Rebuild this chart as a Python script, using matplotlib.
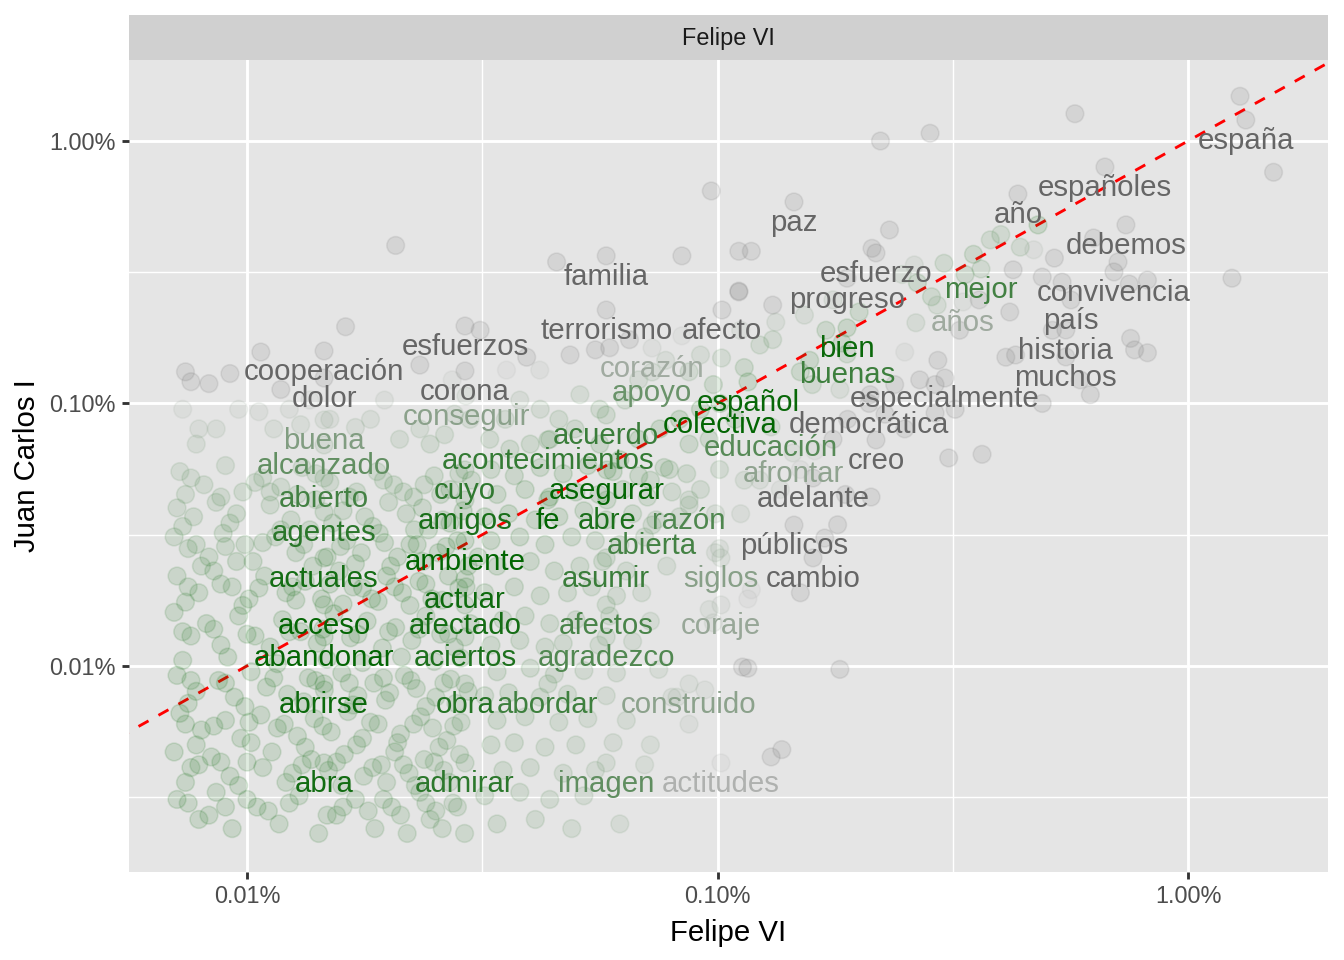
import numpy as np
import matplotlib
matplotlib.use("Agg")
import matplotlib.pyplot as plt
from matplotlib.colors import LinearSegmentedColormap, Normalize
from matplotlib.ticker import FixedLocator, NullFormatter

plt.rcParams['font.family'] = ['Liberation Sans', 'DejaVu Sans']

# Palabras etiquetadas: frecuencia (%) en discursos de Felipe VI y Juan Carlos I
words = ['españa', 'españoles', 'año', 'debemos', 'convivencia', 'país', 'historia', 'muchos',
         'mejor', 'años', 'esfuerzo', 'progreso', 'paz', 'familia', 'terrorismo', 'afecto',
         'esfuerzos', 'cooperación', 'dolor', 'corona', 'conseguir', 'corazón', 'apoyo', 'bien',
         'buenas', 'especialmente', 'español', 'colectiva', 'democrática', 'acuerdo', 'educación',
         'acontecimientos', 'creo', 'afrontar', 'buena', 'alcanzado', 'abierto', 'cuyo', 'asegurar',
         'adelante', 'agentes', 'amigos', 'fe', 'abre', 'razón', 'abierta', 'públicos', 'ambiente',
         'actuales', 'asumir', 'siglos', 'cambio', 'actuar', 'acceso', 'afectado', 'afectos',
         'coraje', 'abandonar', 'aciertos', 'agradezco', 'abrirse', 'obra', 'abordar', 'construido',
         'abra', 'admirar', 'imagen', 'actitudes']
felipe_w = [1.327, 0.666, 0.435, 0.738, 0.696, 0.564, 0.550, 0.550,
            0.363, 0.3325, 0.2172, 0.1885, 0.1454, 0.058, 0.058, 0.1022,
            0.02906, 0.01458, 0.01458, 0.02906, 0.0292, 0.0726, 0.0726, 0.1885,
            0.1885, 0.3044, 0.1161, 0.1012, 0.210, 0.058, 0.130,
            0.0436, 0.2172, 0.1447, 0.01458, 0.01458, 0.01458, 0.02906, 0.0582,
            0.1596, 0.01458, 0.02906, 0.0436, 0.0582, 0.087, 0.0726, 0.1454, 0.02906,
            0.01458, 0.058, 0.1017, 0.1596, 0.02906, 0.01458, 0.02906, 0.058,
            0.1017, 0.01458, 0.02906, 0.058, 0.01458, 0.02906, 0.0436, 0.087,
            0.01458, 0.02906, 0.058, 0.1017]
juan_carlos_w = [1.202, 0.796, 0.628, 0.479, 0.317, 0.248, 0.1905, 0.1504,
                 0.3255, 0.2436, 0.3745, 0.300, 0.5857, 0.365, 0.227, 0.227,
                 0.1973, 0.1585, 0.125, 0.133, 0.1068, 0.1627, 0.1318, 0.194,
                 0.1544, 0.125, 0.1208, 0.100, 0.100, 0.0904, 0.0814,
                 0.0726, 0.0726, 0.0648, 0.0865, 0.0695, 0.052, 0.0558, 0.0558,
                 0.052, 0.0386, 0.0429, 0.0429, 0.0429, 0.0429, 0.0344, 0.0344, 0.02994,
                 0.0258, 0.0258, 0.0258, 0.0258, 0.02145, 0.01708, 0.01708, 0.01708,
                 0.01708, 0.0129, 0.0129, 0.0129, 0.00854, 0.00854, 0.00854, 0.00854,
                 0.00427, 0.00427, 0.00427, 0.00427]

# Resto de palabras (puntos), frecuencias en % (Felipe VI, Juan Carlos I)
cloud_low = [
    (0.0072, .055), (0.0081, .049), (0.0090, .058), (0.0098, .046), (0.0108, .052), (0.0118, .048),
    (0.0131, .057), (0.0150, .050), (0.0171, .046), (0.0189, .055), (0.0205, .049), (0.0226, .044),
    (0.0250, .053), (0.0270, .047), (0.0300, .051),
    (0.0071, .040), (0.0077, .037), (0.0086, .042), (0.0095, .038), (0.0112, .041), (0.0124, .036),
    (0.0140, .043), (0.0160, .039), (0.0178, .037), (0.0200, .042), (0.0218, .038), (0.0236, .040),
    (0.0261, .036), (0.0288, .039),
    (0.0070, .031), (0.0075, .028), (0.0083, .026), (0.0089, .032), (0.0099, .029), (0.0103, .025),
    (0.0115, .031), (0.0127, .027), (0.0136, .033), (0.0148, .026), (0.0163, .030), (0.0175, .027),
    (0.0191, .032), (0.0209, .026), (0.0222, .029), (0.0243, .033), (0.0255, .027), (0.0280, .030),
    (0.0310, .026),
    (0.0071, .022), (0.0079, .019), (0.0085, .023), (0.0093, .020), (0.0101, .018), (0.0109, .022),
    (0.0121, .019), (0.0133, .021), (0.0144, .018), (0.0157, .023), (0.0168, .020), (0.0184, .018),
    (0.0198, .022), (0.0214, .019), (0.0232, .021), (0.0247, .018), (0.0268, .022), (0.0292, .020),
    (0.0070, .016), (0.0076, .013), (0.0082, .0145), (0.0088, .012), (0.0096, .0155), (0.0104, .013),
    (0.0112, .0118), (0.0119, .015), (0.0130, .0135), (0.0141, .0122), (0.0153, .0158), (0.0166, .0128),
    (0.0180, .0148), (0.0194, .0117), (0.0207, .014), (0.0224, .0125), (0.0240, .0155), (0.0258, .0132),
    (0.0276, .0118), (0.0298, .0145),
    (0.0071, .0092), (0.0078, .0080), (0.0087, .0088), (0.0094, .0076), (0.0102, .0095), (0.0110, .0083),
    (0.0122, .0078), (0.0135, .0090), (0.0146, .0081), (0.0159, .0094), (0.0172, .0077), (0.0186, .0086),
    (0.0201, .0079), (0.0216, .0092), (0.0229, .0082), (0.0252, .0076), (0.0271, .0089), (0.0295, .0080),
    (0.0072, .0066), (0.0080, .0057), (0.0090, .0062), (0.0097, .0053), (0.0107, .0065), (0.0116, .0058),
    (0.0128, .0054), (0.0139, .0063), (0.0151, .0056), (0.0164, .0067), (0.0176, .0053), (0.0190, .0060),
    (0.0212, .0055), (0.0234, .0064), (0.0248, .0058), (0.0266, .0052), (0.0285, .0061),
    (0.0070, .0047), (0.0076, .0041), (0.0084, .0045), (0.0092, .0038), (0.0100, .0043), (0.0113, .0047),
    (0.0125, .0039), (0.0137, .0044), (0.0149, .0040), (0.0161, .0046), (0.0177, .0038), (0.0193, .0042),
    (0.0206, .0047), (0.0221, .0039), (0.0238, .0044), (0.0262, .0040), (0.0283, .0046),
    (0.0071, .0031), (0.0079, .0026), (0.0086, .0033), (0.0093, .0024), (0.0105, .0029), (0.0117, .0025),
    (0.0129, .0032), (0.0142, .0023), (0.0155, .0027), (0.0170, .0031), (0.0187, .0024), (0.0203, .0029),
    (0.0219, .0023), (0.0233, .0033), (0.0245, .0026), (0.0260, .0024), (0.0274, .0030), (0.0290, .0023),
]
cloud_fill = [
    (0.0076, .052), (0.0104, .050), (0.0140, .054), (0.0195, .051), (0.0238, .049), (0.0282, .054),
    (0.0073, .034), (0.0092, .035), (0.0118, .033), (0.0152, .035), (0.0185, .034), (0.0227, .033),
    (0.0270, .035),
    (0.0080, .024), (0.0095, .025), (0.0138, .024), (0.0170, .0245), (0.0202, .024), (0.0236, .025),
    (0.0295, .024),
    (0.0074, .0175), (0.0098, .017), (0.0127, .0178), (0.0160, .0172), (0.0190, .0176), (0.0222, .017),
    (0.0260, .0178),
    (0.0073, .0105), (0.0091, .0108), (0.0116, .0102), (0.0148, .0106), (0.0176, .0103), (0.0213, .0108),
    (0.0250, .0104), (0.0285, .0107),
    (0.0075, .0072), (0.0099, .0070), (0.0132, .0073), (0.0168, .0071), (0.0197, .0074), (0.0240, .0070),
    (0.0278, .0072),
    (0.0078, .0050), (0.0102, .0051), (0.0133, .0049), (0.0171, .0050), (0.0209, .0051), (0.0256, .0049),
    (0.0074, .0036), (0.0096, .0035), (0.0121, .0036), (0.0159, .0035), (0.0198, .0036), (0.0228, .0035),
    (0.0269, .0036),
    (0.0083, .0027), (0.0111, .0028), (0.0148, .0027), (0.0181, .0028), (0.0212, .0027), (0.0252, .0028),
]
cloud_fill2 = [
    (0.0074, .045), (0.0088, .044), (0.0112, .046), (0.0128, .045), (0.0165, .044), (0.0215, .046),
    (0.0258, .045),
    (0.0078, .029), (0.0090, .0285), (0.0108, .0295), (0.0132, .029), (0.0158, .0285), (0.0196, .0295),
    (0.0230, .029), (0.0265, .0285),
    (0.0075, .020), (0.0088, .0205), (0.0106, .0198), (0.0125, .020), (0.0150, .0205), (0.0176, .0198),
    (0.0206, .020), (0.0240, .0205), (0.0282, .0198),
    (0.0073, .0135), (0.0085, .0138), (0.0100, .0132), (0.0123, .0135), (0.0145, .0138), (0.0172, .0132),
    (0.0200, .0135), (0.0232, .0138), (0.0268, .0132),
    (0.0076, .0088), (0.0090, .0086), (0.0114, .009), (0.0140, .0088), (0.0165, .0086), (0.0195, .009),
    (0.0223, .0088), (0.0262, .0086),
    (0.0074, .0060), (0.0085, .0059), (0.0101, .0061), (0.0120, .0060), (0.0145, .0059), (0.0183, .0061),
    (0.0226, .0060), (0.0275, .0059),
    (0.0079, .0042), (0.0088, .0043), (0.0108, .0041), (0.0131, .0042), (0.0155, .0043), (0.0185, .0041),
    (0.0215, .0042), (0.0250, .0043),
    (0.0075, .0030), (0.0090, .0029), (0.0100, .0031), (0.0123, .0030), (0.0160, .0029), (0.0195, .0031),
    (0.0240, .0030), (0.0280, .0029),
]
cloud_mid = [
    (0.033, .056), (0.037, .053), (0.042, .057), (0.047, .054), (0.053, .058), (0.060, .055),
    (0.068, .053), (0.077, .057), (0.086, .054),
    (0.034, .045), (0.039, .047), (0.044, .044), (0.050, .046), (0.056, .045), (0.063, .047),
    (0.071, .044), (0.080, .046),
    (0.032, .037), (0.036, .038), (0.041, .036), (0.046, .037), (0.052, .039), (0.058, .036),
    (0.066, .038), (0.074, .036), (0.083, .037),
    (0.033, .030), (0.038, .031), (0.043, .029), (0.049, .031), (0.055, .030), (0.062, .029),
    (0.070, .031),
    (0.034, .024), (0.040, .025), (0.045, .023), (0.051, .024), (0.057, .025), (0.064, .023),
    (0.078, .024),
    (0.032, .019), (0.037, .020), (0.042, .0185), (0.048, .019), (0.054, .020), (0.061, .0185),
    (0.069, .019),
    (0.035, .015), (0.039, .0155), (0.044, .0145), (0.050, .015), (0.059, .0155), (0.072, .0148),
    (0.033, .012), (0.038, .0125), (0.043, .0118), (0.047, .0122), (0.056, .012), (0.066, .0124),
    (0.034, .0095), (0.040, .0098), (0.045, .0093), (0.052, .0096), (0.061, .0094), (0.075, .0097),
    (0.032, .0077), (0.036, .0079), (0.042, .0076), (0.048, .0078), (0.058, .0077), (0.080, .0076),
    (0.034, .0062), (0.039, .0064), (0.046, .0061), (0.053, .0063), (0.064, .0062),
    (0.033, .0050), (0.037, .0051), (0.043, .0049), (0.050, .0050), (0.060, .0051), (0.072, .0050),
    (0.035, .0040), (0.040, .0041), (0.047, .0039), (0.055, .0040), (0.070, .0042),
    (0.032, .0032), (0.038, .0033), (0.044, .0031), (0.052, .0032),
    (0.034, .0025), (0.041, .0026), (0.049, .0024), (0.062, .0025),
    (0.082, .0076), (0.087, .0060), (0.094, .0081), (0.113, .0099), (0.116, .0098), (0.116, .018),
    (0.118, .0195), (0.098, .0146), (0.096, .0164), (0.099, .027), (0.101, .028), (0.112, .038),
    (0.150, .019), (0.137, .0048), (0.130, .0045), (0.182, .0097),
]
cloud_upper = [
    (0.0074, .132), (0.0076, .121), (0.0083, .119), (0.0092, .13), (0.0073, .095), (0.0079, .080),
    (0.0078, .070), (0.0086, .080), (0.0096, .095), (0.0106, .093), (0.0114, .080), (0.0118, .113),
    (0.0123, .095), (0.0130, .083), (0.0136, .103), (0.0150, .087), (0.0170, .081), (0.0183, .087),
    (0.0196, .103), (0.0211, .073), (0.0233, .080), (0.0245, .070), (0.0263, .076), (0.0276, .091),
    (0.0298, .087), (0.0233, .14), (0.0273, .123), (0.0356, .134), (0.0393, .15), (0.0419, .134),
    (0.0486, .153), (0.055, .16), (0.059, .163), (0.065, .175), (0.068, .123), (0.0636, .103),
    (0.0562, .095), (0.051, .108), (0.046, .087), (0.042, .095), (0.038, .103), (0.0354, .087),
    (0.0328, .073), (0.0362, .067), (0.040, .070), (0.044, .073), (0.0498, .080), (0.0562, .070),
    (0.062, .061), (0.068, .073), (0.0754, .080), (0.083, .087), (0.092, .095), (0.087, .070),
    (0.096, .073), (0.109, .087), (0.072, .051), (0.079, .056), (0.092, .047), (0.101, .056),
    (0.114, .051), (0.087, .041), (0.099, .038),
]
cloud_diag = [
    (0.232, .458), (0.213, .39), (0.262, .337), (0.247, .31), (0.266, .288), (0.285, .255),
    (0.293, .237), (0.264, .203), (0.25, .157), (0.294, .146), (0.269, .123), (0.238, .118),
    (0.20, .223), (0.184, .17), (0.170, .19), (0.157, .146), (0.15, .132), (0.133, .204),
    (0.131, .175), (0.123, .167), (0.114, .137), (0.112, .19), (0.102, .149), (0.098, .118),
    (0.092, .153), (0.087, .132), (0.0776, .146), (0.111, .266), (0.131, .237), (0.153, .217),
    (0.176, .248), (0.159, .118), (0.182, .113), (0.211, .108), (0.227, .091), (0.25, .08),
    (0.189, .087), (0.176, .073), (0.161, .066), (0.15, .056), (0.136, .047), (0.123, .051),
    (0.187, .045), (0.18, .0345), (0.169, .0307), (0.212, .044), (0.32, .095),
]
cloud_high = [
    (1.29, 1.48), (1.52, .76), (1.24, .30), (0.575, 1.27), (0.283, 1.07), (0.222, 1.0),
    (0.097, .645), (0.0207, .40), (0.0455, .346), (0.084, .365), (0.111, .38), (0.118, .38),
    (0.111, .268), (0.084, .181), (0.0162, .196), (0.0107, .157), (0.0313, .19), (0.40, .44),
    (0.48, .479), (0.52, .358), (0.63, .427), (0.71, .346), (0.75, .285), (0.82, .295),
    (0.49, .303), (0.54, .29), (0.755, .177), (0.82, .156), (0.77, .16), (0.41, .15),
    (0.43, .153), (0.49, .1), (0.31, .062), (0.365, .064), (0.327, .19), (0.29, .118),
    (0.29, .092), (0.425, .323), (0.47, .385), (0.44, .394), (0.38, .42), (0.35, .37),
    (0.336, .31), (0.303, .342), (0.36, .248), (0.418, .223), (0.515, .19), (0.59, .123),
    (0.62, .108),
]

x_ticks = [0.01, 0.1, 1.0]
x_ticklabels = ['0.01%', '0.10%', '1.00%']
y_ticks = [0.01, 0.1, 1.0]
y_ticklabels = ['0.01%', '0.10%', '1.00%']

# escala de color: diferencia absoluta entre ambos reyes
cmap = LinearSegmentedColormap.from_list('verde_gris', ['#006400', '#B3B3B3'])
cmap.set_over('#666666')
norm = Normalize(vmin=0, vmax=0.1)

pts = np.array(cloud_low + cloud_fill + cloud_fill2 + cloud_mid + cloud_upper + cloud_diag
               + cloud_high + list(zip(felipe_w, juan_carlos_w)))
px, py = pts[:, 0], pts[:, 1]
diff_pts = np.abs(px - py)

fig = plt.figure(figsize=(7, 5), dpi=192)
ax = fig.add_axes([129 / 1344, 1 - 872 / 960, 1199 / 1344, 812 / 960])
strip = fig.add_axes([129 / 1344, 1 - 60 / 960, 1199 / 1344, 45 / 960])

ax.set_facecolor('#E5E5E5')
ax.set_xscale('log')
ax.set_yscale('log')
ax.set_xlim(0.005613, 1.984)
ax.set_ylim(0.00164, 2.035)

ax.plot([0.001, 10], [0.001, 10], color='red', lw=1.07, linestyle=(0, (4, 4)), zorder=1.5)
ax.scatter(px, py, c=diff_pts, cmap=cmap, norm=norm, s=44, alpha=0.13,
           linewidths=0.6, edgecolors='face', zorder=2)

for w, fx, jy in zip(words, felipe_w, juan_carlos_w):
    col = cmap(norm(abs(fx - jy)))
    ax.annotate(w, (fx, jy), xytext=(0, -11), textcoords='offset points',
                ha='center', va='baseline', fontsize=11, color=col, zorder=3)

ax.xaxis.set_major_locator(FixedLocator(x_ticks))
ax.yaxis.set_major_locator(FixedLocator(y_ticks))
ax.set_xticklabels(x_ticklabels)
ax.set_yticklabels(y_ticklabels)
ax.xaxis.set_minor_locator(FixedLocator([10 ** (k + 0.5) for k in range(-4, 1)]))
ax.yaxis.set_minor_locator(FixedLocator([10 ** (k + 0.5) for k in range(-4, 1)]))
ax.xaxis.set_minor_formatter(NullFormatter())
ax.yaxis.set_minor_formatter(NullFormatter())
ax.tick_params(which='major', length=2.75, width=1.07, color='#333333',
               labelsize=8.8, labelcolor='#4D4D4D', pad=2.2)
ax.tick_params(which='minor', length=0)
ax.grid(which='major', color='white', lw=1.07)
ax.grid(which='minor', color='white', lw=0.53)
ax.set_axisbelow(True)
for s in ax.spines.values():
    s.set_visible(False)

ax.set_xlabel('Felipe VI', fontsize=11, labelpad=4)
ax.set_ylabel('Juan Carlos I', fontsize=11, labelpad=3)

strip.set_facecolor('#D0D0D0')
strip.set_xticks([])
strip.set_yticks([])
for s in strip.spines.values():
    s.set_visible(False)
strip.text(0.5, 0.47, 'Felipe VI', ha='center', va='center', fontsize=8.8, color='#1A1A1A',
           transform=strip.transAxes)

fig.savefig('out.png', dpi=192, facecolor='white')
